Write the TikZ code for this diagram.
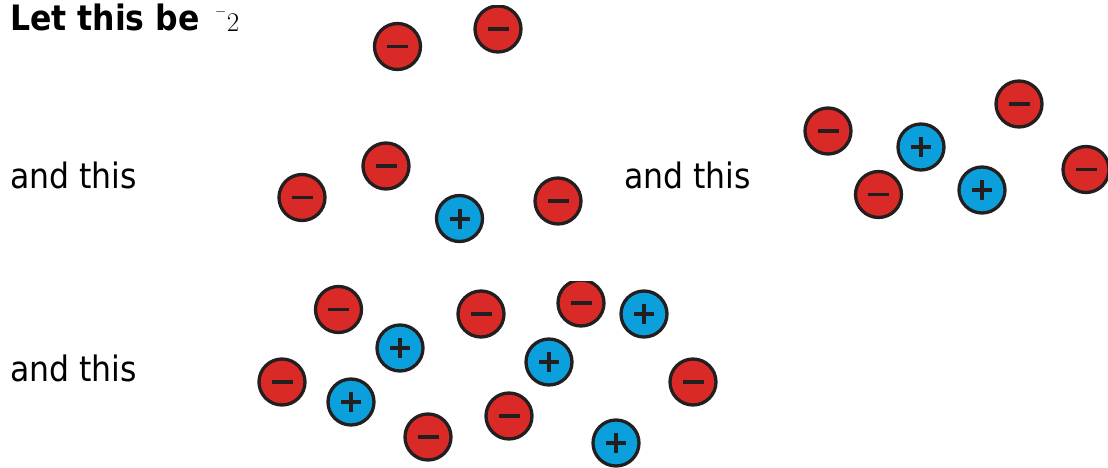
\documentclass[tikz,border=0pt]{standalone}
\usepackage{fontspec}
\setmainfont{DejaVu Sans Condensed}
\newfontfamily\lmfont{Latin Modern Roman}
\usetikzlibrary{calc}
\definecolor{ionred}{HTML}{DA2A27}
\definecolor{ionblue}{HTML}{0B9FDB}
\definecolor{ink}{HTML}{231F20}
\tikzset{
  ion/.style={circle, draw=ink, line width=3.3pt, minimum size=46pt, inner sep=0pt},
  negion/.style={ion, fill=ionred, path picture={
      \fill[ink] ($(path picture bounding box.center)+(-10.5pt,-1.7pt)$) rectangle ++(21pt,3.4pt);}},
  posion/.style={ion, fill=ionblue, path picture={
      \fill[ink] ($(path picture bounding box.center)+(-10pt,-2pt)$) rectangle ++(20pt,4pt);
      \fill[ink] ($(path picture bounding box.center)+(-2pt,-10pt)$) rectangle ++(4pt,20pt);}},
  lbl/.style={anchor=base west, inner sep=0pt, font=\fontsize{35}{40}\selectfont}
}
\begin{document}
\begin{tikzpicture}[x=1pt,y=1pt]
\useasboundingbox (0,0) rectangle (1108,467);
% texts
\node[lbl, font=\fontsize{35}{40}\selectfont\bfseries] (t1) at (10,436) {Let this be};
\node[anchor=base west, inner sep=0pt, font=\fontsize{27}{32}\selectfont\lmfont] (t1b) at (215,435) {\raisebox{17pt}{\fontsize{15}{16}\selectfont$-$}\hspace{0.5pt}2};
\node[lbl] (t2) at (10,279) {and this};
\node[lbl] (t3) at (624,279) {and this};
\node[lbl] (t4) at (10,86) {and this};
% group 1
\node[negion] (a1) at (397.5,420.5) {};
\begin{scope}
\clip (470,0) rectangle (530,461);
\node[negion] (a2) at (498,438) {};
\end{scope}
% group 2
\node[negion] (b1) at (302,269.5) {};
\node[negion] (b2) at (386,301) {};
\node[posion] (b3) at (459.5,248.5) {};
\node[negion] (b4) at (558,266) {};
% group 3
\node[negion] (c1) at (828,336) {};
\node[posion] (c2) at (921,320) {};
\node[negion] (c3) at (878.5,272.5) {};
\node[posion] (c4) at (982,277) {};
\begin{scope}
\clip (980,0) rectangle (1060,388);
\node[negion] (c5) at (1019,363) {};
\end{scope}
\node[negion] (c6) at (1086,297.5) {};
% group 4
\node[negion] (d1) at (338.5,157.5) {};
\node[posion] (d2) at (400,119) {};
\node[negion] (d3) at (481,153) {};
\begin{scope}
\clip (550,0) rectangle (612,186);
\node[negion] (d4) at (581,164) {};
\end{scope}
\node[posion] (d5) at (644,153) {};
\node[negion] (d6) at (282,85) {};
\node[posion] (d7) at (351,65) {};
\node[posion] (d8) at (549,105) {};
\node[negion] (d9) at (693,85) {};
\node[negion] (d10) at (428,30) {};
\node[negion] (d11) at (509,51) {};
\node[posion] (d12) at (616,24) {};
\end{tikzpicture}
\end{document}
